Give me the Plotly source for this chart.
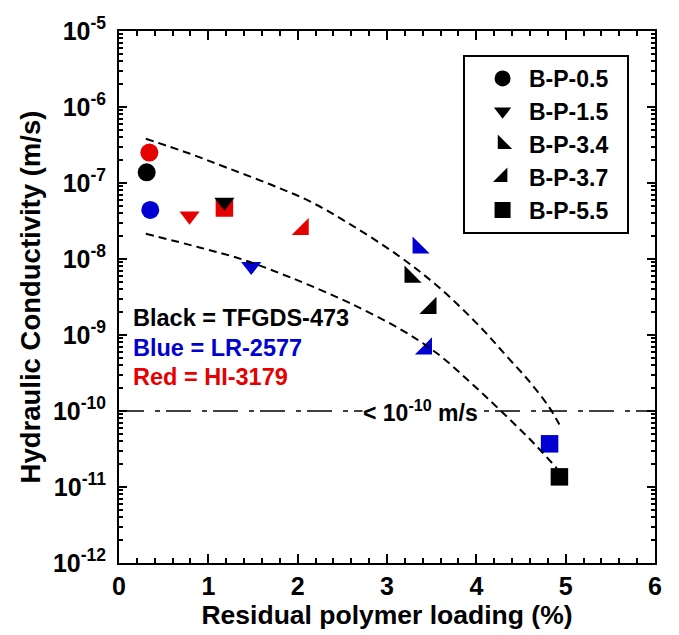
import plotly.graph_objects as go

# Measured hydraulic conductivity vs residual polymer loading
point_sample = ['B-P-0.5', 'B-P-0.5', 'B-P-0.5',
                'B-P-1.5', 'B-P-1.5', 'B-P-1.5',
                'B-P-5.5', 'B-P-3.7',
                'B-P-3.4', 'B-P-3.4',
                'B-P-3.7', 'B-P-3.7',
                'B-P-5.5', 'B-P-5.5']
point_polymer = ['TFGDS-473', 'HI-3179', 'LR-2577',
                 'HI-3179', 'TFGDS-473', 'LR-2577',
                 'HI-3179', 'HI-3179',
                 'LR-2577', 'TFGDS-473',
                 'TFGDS-473', 'LR-2577',
                 'LR-2577', 'TFGDS-473']
point_loading = [0.31, 0.34, 0.35,
                 0.79, 1.18, 1.48,
                 1.18, 2.06,
                 3.35, 3.26,
                 3.49, 3.44,
                 4.82, 4.93]
point_k = [1.38e-7, 2.51e-7, 4.42e-8,
           3.69e-8, 5.61e-8, 8.0e-9,
           4.69e-8, 2.45e-8,
           1.40e-8, 5.8e-9,
           2.25e-9, 6.6e-10,
           3.70e-11, 1.36e-11]

samples = ['B-P-0.5', 'B-P-1.5', 'B-P-3.4', 'B-P-3.7', 'B-P-5.5']
draw_order = ['B-P-5.5', 'B-P-3.7', 'B-P-3.4', 'B-P-1.5', 'B-P-0.5']
sample_symbol = {'B-P-0.5': 'circle', 'B-P-1.5': 'triangle-down',
                 'B-P-3.4': 'triangle-sw', 'B-P-3.7': 'triangle-se',
                 'B-P-5.5': 'square'}
sample_size = {'B-P-0.5': 18, 'B-P-1.5': 17.5, 'B-P-3.4': 19,
               'B-P-3.7': 19, 'B-P-5.5': 17.5}
legend_size = {'B-P-0.5': 16, 'B-P-1.5': 15, 'B-P-3.4': 16,
               'B-P-3.7': 16, 'B-P-5.5': 16}

polymer_color = {'TFGDS-473': '#000000', 'LR-2577': '#0000d2',
                 'HI-3179': '#e60000'}

# Upper and lower bounding trend curves
upper_loading = [0.30, 0.79, 1.20, 1.69, 2.13, 2.58, 3.14, 3.59, 4.04,
                 4.34, 4.60, 4.82, 4.93]
upper_k = [3.82e-7, 2.44e-7, 1.60e-7, 9.62e-8, 5.78e-8, 2.90e-8, 1.08e-8,
           4.15e-9, 1.29e-9, 5.25e-10, 2.40e-10, 1.10e-10, 6.64e-11]
lower_loading = [0.30, 0.90, 1.38, 1.80, 2.13, 2.58, 3.14, 3.56, 3.93,
                 4.26, 4.60, 4.90]
lower_k = [2.15e-8, 1.42e-8, 9.89e-9, 6.49e-9, 4.53e-9, 2.64e-9, 1.21e-9,
           5.74e-10, 2.40e-10, 1.04e-10, 4.24e-11, 1.77e-11]

# Detection limit
limit_loading = [0, 6]
limit_k = [1e-10, 1e-10]

y_tickvals = [1e-12, 1e-11, 1e-10, 1e-9, 1e-8, 1e-7, 1e-6, 1e-5]
y_ticktext = ['10<sup>-12</sup>', '10<sup>-11</sup>', '10<sup>-10</sup>',
              '10<sup>-9</sup>', '10<sup>-8</sup>', '10<sup>-7</sup>',
              '10<sup>-6</sup>', '10<sup>-5</sup>']

FONT = 'Liberation Sans, Arial, sans-serif'

fig = go.Figure()

for s in draw_order:
    idx = [i for i, v in enumerate(point_sample) if v == s]
    fig.add_trace(go.Scatter(
        x=[point_loading[i] for i in idx],
        y=[point_k[i] for i in idx],
        mode='markers', showlegend=False,
        marker=dict(symbol=sample_symbol[s], size=sample_size[s],
                    color=[polymer_color[point_polymer[i]] for i in idx],
                    line=dict(width=0)),
    ))

for xs, ys in [(upper_loading, upper_k), (lower_loading, lower_k)]:
    fig.add_trace(go.Scatter(
        x=xs, y=ys, mode='lines', showlegend=False,
        line=dict(color='black', width=2, dash='8px,5px', shape='spline',
                  smoothing=1.0),
    ))

fig.add_trace(go.Scatter(
    x=limit_loading, y=limit_k, mode='lines', showlegend=False,
    line=dict(color='black', width=1.5, dash='25px,11px,5px,6px'),
))

# Legend entries (black symbols)
for s in samples:
    fig.add_trace(go.Scatter(
        x=[None], y=[None], mode='markers',
        name='\u00a0' + s + '\u00a0\u00a0',
        marker=dict(symbol=sample_symbol[s], size=legend_size[s],
                    color='black', line=dict(width=0)),
    ))

fig.add_annotation(x=3.376, y=-10, text='< 10<sup>-10</sup> m/s',
                   showarrow=False, bgcolor='white', borderpad=0,
                   font=dict(family=FONT, size=23, color='black', weight='bold'))

for label, poly, ypos in [('Black', 'TFGDS-473', -8.78),
                          ('Blue', 'LR-2577', -9.165),
                          ('Red', 'HI-3179', -9.55)]:
    fig.add_annotation(x=0.13, y=ypos, text=f'{label} = {poly}',
                       showarrow=False, xanchor='left', yanchor='middle',
                       font=dict(family=FONT, size=23.5,
                                 color=polymer_color[poly], weight='bold'))

axis_common = dict(showline=True, linecolor='black', linewidth=2,
                   mirror='ticks', ticks='inside', tickcolor='black',
                   tickwidth=1.5, showgrid=False, zeroline=False)

fig.update_layout(
    width=679, height=635,
    margin=dict(l=119, r=24, t=31, b=66),
    paper_bgcolor='white', plot_bgcolor='white',
    font=dict(family=FONT, color='black', weight='bold'),
    xaxis=dict(range=[0, 6], dtick=1, ticklen=9,
               tickfont=dict(size=25, family=FONT, weight='bold'),
               title=dict(text='Residual polymer loading (%)', standoff=4,
                          font=dict(size=26.5, family=FONT, weight='bold')),
               minor=dict(dtick=0.2, ticks='inside', ticklen=5,
                          tickwidth=1.5, tickcolor='black'),
               **axis_common),
    yaxis=dict(type='log', range=[-12, -5], tickvals=y_tickvals,
               ticktext=y_ticktext, ticklen=8,
               tickfont=dict(size=25, family=FONT, weight='bold'),
               ticklabelstandoff=6,
               title=dict(text='Hydraulic Conductivity (m/s)', standoff=4,
                          font=dict(size=27.5, family=FONT, weight='bold')),
               minor=dict(dtick='D1', ticks='inside', ticklen=4,
                          tickwidth=1.5, tickcolor='black'),
               **axis_common),
    legend=dict(x=0.641, y=0.955, xanchor='left', yanchor='top',
                bordercolor='black', borderwidth=2, bgcolor='white',
                indentation=18, itemsizing='trace',
                font=dict(size=23, family=FONT, weight='bold')),
)

fig.write_html('out.html')
